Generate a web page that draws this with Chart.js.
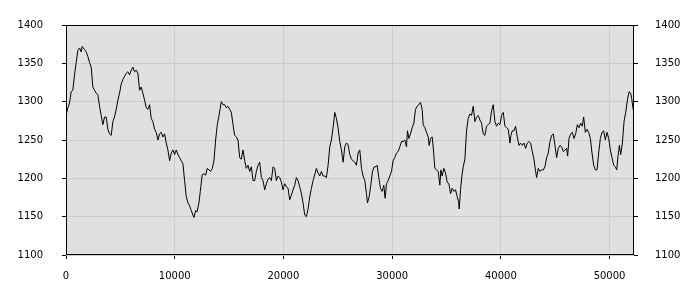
<!DOCTYPE html>
<html>
<head>
<meta charset="utf-8">
<script src="https://cdn.jsdelivr.net/npm/chart.js@4"></script>
<style>
  html, body { margin: 0; padding: 0; background: #fff; }
  #wrap { width: 700px; height: 300px; }
</style>
</head>
<body>
<div id="wrap"><canvas id="chart"></canvas></div>
<script>
const X_MIN = 0;
const X_MAX = 52250;
const Y_MIN = 1100;
const Y_MAX = 1400;
const Y_TICK_LABELS = [1100, 1150, 1200, 1250, 1300, 1350, 1400];
const X_TICK_LABELS = [0, 10000, 20000, 30000, 40000, 50000];

const XS = [
  0, 169, 322, 476, 629, 783, 936, 1090, 1243, 1396, 1488, 1703, 1857, 2010, 2164, 2317,
  2471, 2624, 2777, 2931, 3084, 3238, 3391, 3545, 3698, 3852, 4005, 4158, 4312, 4465,
  4619, 4772, 4926, 5079, 5233, 5386, 5539, 5693, 5846, 6000, 6153, 6307, 6460, 6614,
  6767, 6920, 7074, 7227, 7381, 7534, 7688, 7841, 7995, 8148, 8302, 8455, 8608, 8762,
  8915, 9069, 9222, 9376, 9529, 9683, 9836, 9989, 10143, 10296, 10450, 10603, 10757,
  10910, 11064, 11217, 11370, 11524, 11677, 11769, 11923, 12046, 12230, 12353, 12537,
  12690, 12844, 12997, 13151, 13304, 13458, 13611, 13765, 13918, 14072,
  14288, 14441, 14595, 14748, 14902, 15055, 15209, 15362, 15516, 15669, 15822, 15976,
  16129, 16283, 16436, 16590, 16743, 16897, 17050, 17203, 17357, 17510, 17664, 17817,
  17971, 18124, 18278, 18431, 18584, 18738, 18891, 19045, 19198, 19352, 19505, 19659,
  19812, 19966, 20119, 20272, 20426, 20579, 20733, 20886, 21040, 21193, 21347, 21500,
  21653, 21807, 21960, 22114, 22267, 22421, 22574, 22728, 22881, 23035, 23188, 23341,
  23495, 23648, 23802, 23955, 24109, 24262, 24416, 24569, 24723, 24876, 25029, 25183,
  25336, 25490, 25643, 25797, 25950, 26104, 26257, 26410, 26564, 26717, 26871, 27024,
  27179, 27332, 27486, 27639, 27731, 27885, 28038, 28192, 28345, 28499, 28621, 28775,
  28928, 29082, 29235, 29358, 29481, 29634, 29788, 29941, 30094, 30248, 30401, 30555,
  30708, 30862, 31015, 31169, 31322, 31414, 31537, 31690, 31844, 31997, 32151, 32304,
  32458, 32611, 32764, 32857, 33010, 33163, 33317, 33409, 33532, 33685, 33777, 33931,
  34084, 34238, 34391, 34483, 34606, 34759, 34913, 35066, 35220, 35373, 35527, 35680,
  35834, 35987, 36110, 36171, 36294, 36417, 36539, 36693, 36846, 37000, 37153, 37307,
  37460, 37614, 37767, 37921, 38074, 38228, 38381, 38534, 38688, 38841, 38995, 39148,
  39302, 39455, 39609, 39762, 39916,
  40070, 40223, 40377, 40530, 40684, 40837, 40929, 41052, 41205, 41359, 41512, 41666,
  41819, 41973, 42126, 42280, 42433, 42587, 42740, 42893, 43047, 43200, 43292, 43446,
  43599, 43753, 43906, 44060, 44213, 44366, 44520, 44673, 44827, 44980, 45134, 45287,
  45441, 45594, 45748, 45901, 46054, 46146, 46269, 46423, 46576, 46730, 46883, 47037,
  47190, 47344, 47497, 47620, 47773, 47927, 48080, 48234, 48387, 48541, 48694, 48848,
  49001, 49154, 49308, 49461, 49615, 49768, 49922, 50075, 50229, 50382, 50536, 50658,
  50781, 50904, 51027, 51180, 51334, 51487, 51641, 51794, 51948, 52040, 52132, 52224
];

const YS = [
  1282, 1292, 1298, 1313, 1315, 1335, 1351, 1367, 1370, 1365, 1372, 1368, 1365, 1359, 1351, 1345,
  1319, 1315, 1311, 1309, 1294, 1282, 1270, 1280, 1280, 1264, 1258, 1256, 1274, 1280,
  1290, 1302, 1311, 1323, 1329, 1333, 1337, 1339, 1335, 1341, 1345, 1339, 1341, 1337,
  1315, 1319, 1311, 1302, 1292, 1290, 1296, 1278, 1274, 1264, 1260, 1250, 1258, 1260,
  1254, 1258, 1246, 1237, 1223, 1233, 1237, 1231, 1237, 1231, 1227, 1223, 1219,
  1197, 1176, 1168, 1164, 1158, 1152, 1149, 1158, 1156, 1168, 1183, 1205,
  1206, 1204, 1213, 1211, 1209, 1213, 1223, 1250, 1270, 1282,
  1300, 1296, 1296, 1292, 1294, 1290, 1286, 1270, 1256, 1254, 1250, 1227,
  1225, 1237, 1223, 1213, 1217, 1209, 1215, 1197, 1197, 1209, 1217, 1221,
  1201, 1197, 1185, 1193, 1199, 1201, 1197, 1215, 1213, 1197, 1203, 1201,
  1195, 1185, 1193, 1189, 1187, 1172, 1178, 1185, 1191, 1201, 1197, 1189,
  1180, 1168, 1152, 1150, 1160, 1176, 1187, 1197, 1205, 1213, 1207, 1203,
  1209, 1203, 1203, 1201, 1217, 1241, 1250, 1266, 1286, 1278, 1266, 1248,
  1237, 1221, 1241, 1246, 1244, 1231, 1225, 1223, 1221, 1217, 1233, 1237,
  1213, 1203, 1197, 1180, 1168, 1176, 1191, 1209, 1215, 1215, 1217, 1201,
  1187, 1183, 1191, 1174, 1193, 1197, 1203, 1209, 1223, 1227, 1233, 1235,
  1241, 1248, 1248, 1250, 1241, 1262, 1252, 1258, 1266, 1272, 1290, 1294,
  1296, 1299, 1290, 1270, 1266, 1260, 1254, 1243, 1252, 1254, 1241, 1213,
  1211, 1209, 1191, 1211, 1203, 1213, 1207, 1195, 1193, 1180, 1187, 1183,
  1185, 1176, 1170, 1160, 1185, 1203, 1215, 1225, 1262, 1278, 1284, 1282,
  1294, 1274, 1280, 1282, 1276, 1272, 1258, 1256, 1268, 1270, 1272, 1288,
  1296, 1274, 1268, 1272, 1270,
  1282, 1286, 1268, 1266, 1264, 1246, 1256, 1262, 1262, 1268, 1254, 1243,
  1246, 1243, 1246, 1239, 1246, 1248, 1246, 1235, 1225, 1209, 1201, 1213,
  1209, 1211, 1211, 1215, 1227, 1233, 1248, 1256, 1258, 1243, 1227, 1239,
  1243, 1241, 1235, 1237, 1239, 1229, 1252, 1258, 1260, 1252, 1258, 1270,
  1266, 1272, 1268, 1280, 1260, 1264, 1260, 1252, 1233, 1217, 1211, 1211,
  1233, 1252, 1260, 1262, 1250, 1260, 1252, 1237, 1227, 1217, 1215, 1211,
  1229, 1243, 1231, 1246, 1274, 1286, 1302, 1313, 1311, 1304, 1294, 1286
];

const points = XS.map((x, i) => ({ x: x, y: YS[i] }));

const plotFrame = {
  id: 'plotFrame',
  beforeDraw(chart) {
    const { ctx, chartArea: a } = chart;
    ctx.save();
    ctx.fillStyle = '#e0e0e0';
    ctx.fillRect(a.left, a.top, a.right - a.left, a.bottom - a.top);
    ctx.restore();
  },
  afterDraw(chart) {
    const { ctx, chartArea: a } = chart;
    ctx.save();
    ctx.strokeStyle = '#000';
    ctx.lineWidth = 1;
    ctx.strokeRect(Math.round(a.left) + 0.5, Math.round(a.top) + 0.5,
      Math.round(a.right - a.left) - 1, Math.round(a.bottom - a.top) - 1);
    ctx.restore();
  },
};

const FONT = { family: 'DejaVu Sans', size: 10 };
const plainNumber = v => String(v);

function yAxis(position, padding) {
  return {
    type: 'linear',
    position: position,
    min: Y_MIN,
    max: Y_MAX,
    afterFit(scale) { scale.width = 66; },
    afterBuildTicks(scale) { scale.ticks = Y_TICK_LABELS.map(v => ({ value: v })); },
    grid: {
      color: '#cccccc',
      tickColor: '#000',
      tickLength: 4,
      drawOnChartArea: position === 'left',
    },
    border: { display: false },
    ticks: { font: FONT, color: '#000', padding: padding, callback: plainNumber },
  };
}

new Chart(document.getElementById('chart'), {
  type: 'line',
  data: {
    datasets: [{
      data: points,
      borderColor: '#000',
      borderWidth: 1,
      pointRadius: 0,
      tension: 0,
      fill: false,
    }],
  },
  plugins: [plotFrame],
  options: {
    responsive: true,
    maintainAspectRatio: false,
    animation: false,
    events: [],
    layout: { padding: { top: 10, left: 0, right: 0, bottom: 0 } },
    plugins: { legend: { display: false }, tooltip: { enabled: false } },
    scales: {
      x: {
        type: 'linear',
        min: X_MIN,
        max: X_MAX,
        afterFit(scale) { scale.height = 45; },
        afterBuildTicks(scale) { scale.ticks = X_TICK_LABELS.map(v => ({ value: v })); },
        grid: { color: '#cccccc', tickColor: '#000', tickLength: 4 },
        border: { display: false },
        ticks: { font: FONT, color: '#000', padding: 11, maxRotation: 0, callback: plainNumber },
      },
      y: yAxis('left', 19),
      y2: yAxis('right', 17),
    },
  },
});
</script>
</body>
</html>
